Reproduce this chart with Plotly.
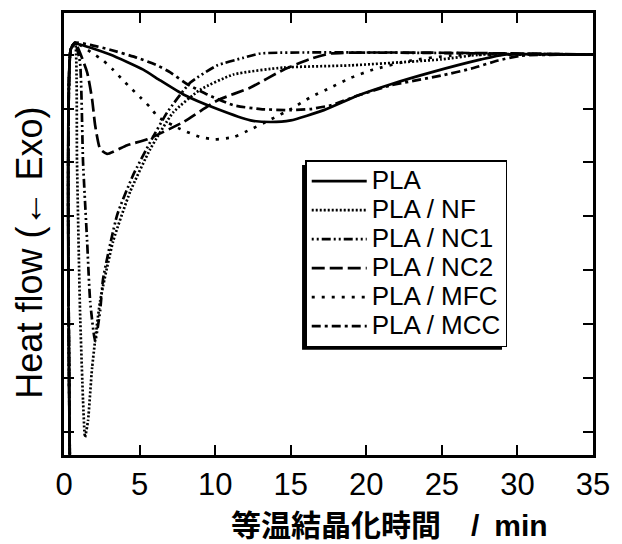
import plotly.graph_objects as go

# Isothermal crystallization time (min) and heat flow (arbitrary units, tick spacing = 1)
series_names = ["PLA", "PLA / NF", "PLA / NC1", "PLA / NC2", "PLA / MFC", "PLA / MCC"]

t_pla = [0.40, 0.45, 0.73, 3.05, 5.24, 6.37, 7.9, 10.15, 12.34, 13.67, 15.0, 17.19, 19.44, 21.63, 24.29, 27.6, 29.13, 35.0]
hf_pla = [-1.0, 7.10, 7.20, 7.0, 6.72, 6.52, 6.26, 5.99, 5.78, 5.75, 5.78, 5.97, 6.24, 6.45, 6.67, 6.91, 7.0, 7.0]

t_nf = [0.40, 0.45, 0.73, 0.86, 1.06, 1.26, 1.39, 1.59, 1.86, 2.39, 3.25, 4.38, 5.71, 7.23, 9.02, 11.21, 14.53, 18.98, 24.95, 27.6, 35.0]
hf_nf = [-1.0, 7.10, 7.22, 5.01, 2.25, 0.59, -0.09, 0.22, 1.2, 2.43, 3.54, 4.46, 5.25, 5.93, 6.35, 6.63, 6.76, 6.80, 6.91, 7.0, 7.0]

t_nc1 = [0.40, 0.45, 0.73, 1.06, 1.26, 1.53, 1.73, 2.06, 2.39, 2.59, 3.52, 4.58, 5.71, 6.83, 8.36, 10.15, 11.88, 13.0, 35.0]
hf_nc1 = [-1.0, 7.10, 7.22, 6.85, 5.01, 3.54, 2.43, 1.69, 2.25, 2.85, 4.03, 4.77, 5.38, 5.93, 6.48, 6.80, 6.94, 7.02, 7.0]

t_nc2 = [0.40, 0.45, 0.73, 1.53, 1.86, 2.06, 2.39, 2.85, 4.18, 5.51, 7.9, 10.15, 12.34, 14.53, 16.32, 17.65, 35.0]
hf_nc2 = [-1.0, 7.10, 7.22, 6.67, 6.17, 5.69, 5.25, 5.16, 5.32, 5.43, 5.75, 6.15, 6.39, 6.72, 6.92, 7.02, 7.0]

t_mfc = [0.40, 0.45, 0.73, 1.86, 2.59, 3.25, 3.85, 4.38, 5.04, 5.71, 6.24, 7.7, 9.02, 10.0, 11.2, 12.4, 13.7, 15.0, 16.32, 17.65, 18.98, 20.44, 22.96, 25.6, 35.0]
hf_mfc = [-1.0, 7.10, 7.22, 7.03, 6.89, 6.72, 6.54, 6.39, 6.21, 6.02, 5.84, 5.62, 5.47, 5.43, 5.47, 5.62, 5.80, 5.99, 6.21, 6.39, 6.57, 6.72, 6.89, 6.98, 7.0]

t_mcc = [0.40, 0.45, 0.73, 1.73, 3.05, 4.84, 6.17, 7.03, 8.16, 9.49, 11.21, 13.0, 15.0, 16.3, 17.65, 19.44, 21.63, 24.95, 26.94, 28.73, 30.26, 35.0]
hf_mcc = [-1.0, 7.10, 7.22, 7.18, 7.09, 6.94, 6.80, 6.67, 6.45, 6.26, 6.06, 5.99, 5.97, 5.99, 6.06, 6.24, 6.43, 6.61, 6.74, 6.89, 6.98, 7.0]

x_ticks = [0, 5, 10, 15, 20, 25, 30, 35]
y_ticks = [0, 1, 2, 3, 4, 5, 6, 7]

times = [t_pla, t_nf, t_nc1, t_nc2, t_mfc, t_mcc]
flows = [hf_pla, hf_nf, hf_nc1, hf_nc2, hf_mfc, hf_mcc]
dashes = ["solid", "2px,2px", "2px,3px,2px,3px,9px,3px", "13px,5px", "3px,7px", "9px,4px,3px,4px"]

font_main = "Liberation Sans, Arial, Helvetica, sans-serif"

fig = go.Figure()
for name, t, hf, d in zip(series_names, times, flows, dashes):
    fig.add_trace(go.Scatter(
        x=t, y=hf, mode="lines",
        name="<span style='font-size:26px'>" + name + "</span>",
        line=dict(color="black", width=2.7, dash=d, shape="spline", smoothing=0.5),
    ))

fig.update_layout(
    width=622, height=544,
    margin=dict(l=64, r=29, t=10, b=89),
    paper_bgcolor="white", plot_bgcolor="white",
    font=dict(family=font_main, color="black"),
    showlegend=True,
    legend=dict(
        x=0.456, y=0.667, xanchor="left", yanchor="top",
        bgcolor="white", bordercolor="black", borderwidth=1.5,
        font=dict(size=20, family=font_main, color="black"),
        itemwidth=55, tracegroupgap=0,
    ),
    xaxis=dict(
        range=[0, 35], tickvals=x_ticks, ticktext=[str(v) for v in x_ticks],
        ticks="inside", ticklen=10, tickwidth=2, tickcolor="black",
        showline=True, linewidth=3, linecolor="black", mirror="allticks",
        showgrid=False, zeroline=False,
        tickfont=dict(size=31, family=font_main, color="black"),
    ),
    yaxis=dict(
        range=[-0.42, 7.77], tickvals=y_ticks, showticklabels=False,
        ticks="inside", ticklen=10, tickwidth=2, tickcolor="black",
        showline=True, linewidth=3, linecolor="black", mirror="allticks",
        showgrid=False, zeroline=False,
    ),
)

# legend drop shadow (drawn under the legend box, visible at left and bottom)
fig.add_shape(
    type="rect", xref="paper", yref="paper",
    x0=0.450, x1=0.828, y0=0.238, y1=0.656,
    fillcolor="black", line=dict(width=0), layer="above",
)

fig.add_annotation(
    text="Heat flow (← Exo)", textangle=-90,
    xref="paper", yref="paper", x=-0.066, y=0.458, xanchor="center", yanchor="middle",
    showarrow=False,
    font=dict(size=36, family=font_main, color="black"),
)

fig.add_annotation(
    text="<b>等温結晶化時間\u2003/\u2002min</b>",
    xref="paper", yref="paper", x=0.616, y=-0.160, xanchor="center", yanchor="middle",
    showarrow=False,
    font=dict(size=30, family="Liberation Sans, Noto Sans CJK JP, sans-serif", color="black"),
)

fig.write_html(
    "out.html",
    config={"displayModeBar": False},
    post_script="document.body.style.margin='0';document.body.style.padding='0';",
)
